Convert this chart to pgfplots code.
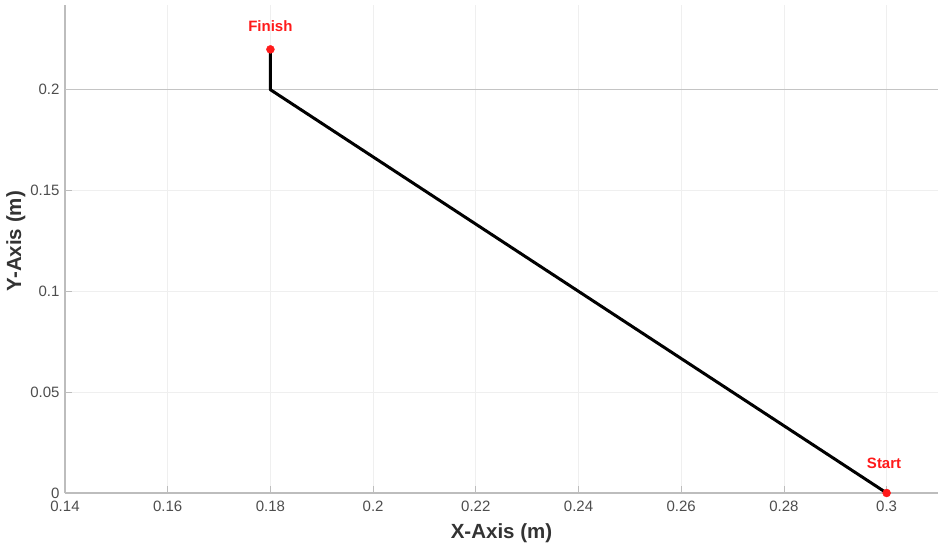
\documentclass[border=0pt]{standalone}
\usepackage{pgfplots}
\pgfplotsset{compat=1.18}
\usepackage{fontspec}
\setmainfont{Liberation Sans}
\definecolor{tickgray}{HTML}{4D4D4D}
\definecolor{axgray}{HTML}{BDBDBD}
\definecolor{gridgray}{HTML}{EFEFEF}
\definecolor{finred}{HTML}{FF1A1A}
\begin{document}
\begin{tikzpicture}
\begin{axis}[
  scale only axis,
  width=873pt, height=488pt,
  xmin=0.14, xmax=0.31, ymin=0, ymax=0.242,
  xtick={0.14,0.16,...,0.301},
  ytick={0,0.05,0.1,0.15,0.2},
  xticklabels={0.14,0.16,0.18,0.2,0.22,0.24,0.26,0.28,0.3},
  yticklabels={0,0.05,0.1,0.15,0.2},
  axis x line*=bottom, axis y line*=left,
  axis line style={axgray, line width=1.2pt, -},
  tick align=inside, major tick length=7pt,
  tick style={axgray, line width=0.8pt},
  xmajorgrids, ymajorgrids,
  grid style={gridgray, line width=0.8pt},
  ticklabel style={font=\fontsize{15pt}{17pt}\selectfont, text=tickgray},
  /pgf/number format/assume math mode=true,
  xlabel={\textbf{X-Axis (m)}}, ylabel={\textbf{Y-Axis (m)}},
  label style={font=\fontsize{20.5pt}{22pt}\selectfont, text=black!80},
  xlabel style={at={(axis description cs:0.5,0)}, anchor=center, yshift=-40pt},
  ylabel style={at={(axis description cs:-0.0562,0.516)}, anchor=center},
  xticklabel style={yshift=-4pt},
  yticklabel style={xshift=-2pt},
  clip=false,
]
\addplot[color=axgray!90, line width=1.6pt, forget plot] coordinates {(0.14,0.2) (0.31,0.2)};
\addplot[black, line width=3pt, line join=round] coordinates {(0.3,0) (0.18,0.2) (0.18,0.22)};
\addplot[only marks, mark=*, mark size=4pt, color=finred] coordinates {(0.3,0) (0.18,0.22)};
\node[text=finred, font=\fontsize{15pt}{17pt}\selectfont\bfseries] at (axis cs:0.18,0.2313) {Finish};
\node[text=finred, font=\fontsize{15pt}{17pt}\selectfont\bfseries] at (axis cs:0.2995,0.0149) {Start};
\path[use as bounding box] (rel axis cs:0,0) ++(-65pt,-51pt) rectangle ([shift={(5pt,5pt)}]rel axis cs:1,1);
\end{axis}
\end{tikzpicture}
\end{document}
